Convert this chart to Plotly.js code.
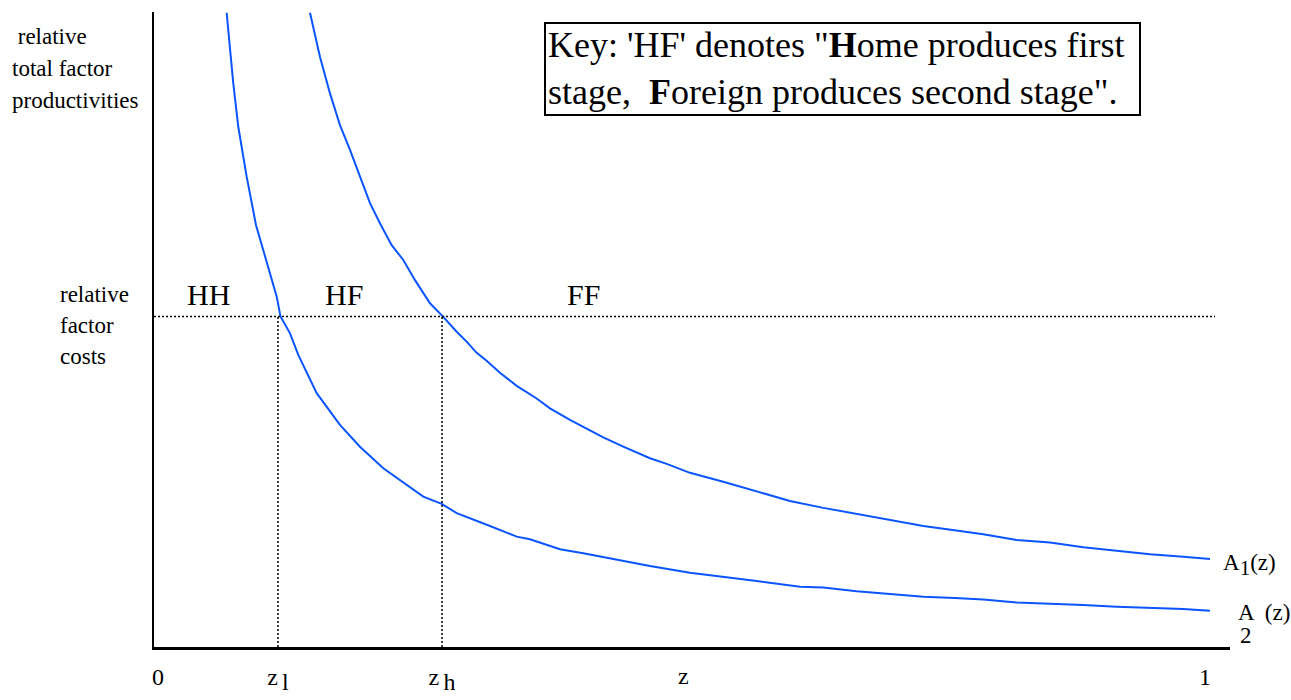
<!DOCTYPE html>
<html>
<head>
<meta charset="utf-8">
<script src="https://cdn.plot.ly/plotly-3.0.1.min.js"></script>
<style>
  html, body { margin: 0; padding: 0; background: #fff; }
  #chart { width: 1291px; height: 700px; }
</style>
</head>
<body>
<div id="chart"></div>
<script>
// z on the horizontal axis (0..1), heights scaled so relative factor costs = 1
var a1Z = [0.1452, 0.1547, 0.1643, 0.1738, 0.1834, 0.1929, 0.2025, 0.2120, 0.2232, 0.2343,
  0.2455, 0.2598, 0.2725, 0.2853, 0.2948, 0.3044, 0.3139, 0.3266, 0.3426, 0.3617,
  0.3744, 0.3935, 0.4126, 0.4253, 0.4444, 0.4699, 0.4859, 0.5081, 0.5399, 0.5718,
  0.6036, 0.6354, 0.6673, 0.6991, 0.7310, 0.7660, 0.7882, 0.8201, 0.8520, 0.8838,
  0.9157, 0.9475, 0.9793, 1.0048];
var a1Y = [1.919, 1.786, 1.675, 1.579, 1.504, 1.423, 1.343, 1.282, 1.216, 1.171,
  1.110, 1.040, 0.999, 0.954, 0.924, 0.890, 0.866, 0.830, 0.790, 0.752,
  0.722, 0.687, 0.654, 0.634, 0.606, 0.571, 0.554, 0.527, 0.500, 0.470,
  0.442, 0.421, 0.402, 0.384, 0.366, 0.351, 0.341, 0.324, 0.316, 0.302,
  0.291, 0.281, 0.273, 0.266];

var a2Z = [0.0656, 0.0719, 0.0767, 0.0847, 0.0936, 0.1038, 0.1134, 0.1170, 0.1261, 0.1340,
  0.1516, 0.1738, 0.1929, 0.2152, 0.2438, 0.2534, 0.2710, 0.2853, 0.3171, 0.3426,
  0.3553, 0.3840, 0.4062, 0.4381, 0.4699, 0.5081, 0.5399, 0.5718, 0.6132, 0.6354,
  0.6673, 0.6991, 0.7310, 0.7612, 0.7882, 0.8201, 0.8520, 0.8838, 0.9157, 0.9475,
  0.9793, 1.0048];
var a2Y = [1.919, 1.706, 1.574, 1.423, 1.277, 1.161, 1.060, 1.000, 0.949, 0.884,
  0.768, 0.672, 0.606, 0.541, 0.475, 0.455, 0.433, 0.405, 0.366, 0.334,
  0.326, 0.296, 0.284, 0.265, 0.245, 0.225, 0.213, 0.200, 0.182, 0.180,
  0.169, 0.160, 0.152, 0.148, 0.144, 0.135, 0.132, 0.127, 0.122, 0.119,
  0.115, 0.110];

var costLevel = 1;
var zl = 0.1146;
var zh = 0.2713;
var costLineX = [-0.0038, 1.0096];

var tickVals = [0, zl, zh, 1];
var tickText = ['0', 'z<sub> <span style="font-size:24px">l</span></sub>',
  'z<sub> <span style="font-size:24px">h</span></sub>', '1'];

var serif = 'Liberation Serif';  // a comma list of families is not applied here
var blue = '#0a55ff';

// pixel helpers for text placement (plot area 154..1230 x 12..647)
function pxX(p) { return (p - 154) / 1076; }
function pxY(p) { return (647 - p) / 635; }

var traces = [
  { x: a1Z, y: a1Y, type: 'scatter', mode: 'lines', line: { color: blue, width: 2 } },
  { x: a2Z, y: a2Y, type: 'scatter', mode: 'lines', line: { color: blue, width: 2 } },
  { x: costLineX, y: [costLevel, costLevel], type: 'scatter', mode: 'lines',
    line: { color: '#000', width: 1.5, dash: '2px,2px' } },
  { x: [zl, zl], y: [0, costLevel], type: 'scatter', mode: 'lines',
    line: { color: '#000', width: 1.5, dash: '2px,2px' } },
  { x: [zh, zh], y: [0, costLevel], type: 'scatter', mode: 'lines',
    line: { color: '#000', width: 1.5, dash: '2px,2px' } }
];

function note(text, x, y, size, opts) {
  var a = {
    text: text, xref: 'paper', yref: 'paper', x: pxX(x), y: pxY(y),
    showarrow: false, xanchor: 'center', yanchor: 'middle',
    font: { family: serif, size: size, color: '#000' }
  };
  for (var k in opts) a[k] = opts[k];
  return a;
}
var left = { xanchor: 'left', align: 'left' };

var layout = {
  width: 1291,
  height: 700,
  margin: { l: 154, r: 61, t: 12, b: 53 },
  paper_bgcolor: '#fff',
  plot_bgcolor: '#fff',
  showlegend: false,
  hovermode: false,
  font: { family: serif },
  xaxis: {
    range: [-0.0038, 1.0239],
    showgrid: false, zeroline: false,
    showline: true, linecolor: '#000', linewidth: 2.5,
    tickmode: 'array', tickvals: tickVals, ticktext: tickText,
    ticks: 'outside', ticklen: 7, tickcolor: 'rgba(0,0,0,0)',
    tickfont: { family: serif, size: 24, color: '#000' }
  },
  yaxis: {
    range: [0, 1.9213],
    showgrid: false, zeroline: false,
    showline: true, linecolor: '#000', linewidth: 2.5,
    showticklabels: false, ticks: ''
  },
  shapes: [
    { type: 'rect', xref: 'paper', yref: 'paper',
      x0: pxX(545), x1: pxX(1140), y0: pxY(115), y1: pxY(23),
      line: { color: '#000', width: 2 }, fillcolor: '#fff', layer: 'above' }
  ],
  annotations: [
    note('&nbsp;relative', 10, 36, 23, left),
    note('total factor', 10, 68, 23, left),
    note('productivities', 10, 100, 23, left),
    note('relative', 58, 294, 23, left),
    note('factor', 58, 325, 23, left),
    note('costs', 58, 357, 23, left),
    note('HH', 208, 294, 30),
    note('HF', 344, 294, 30),
    note('FF', 583, 294, 30),
    note('Key: \'HF\' denotes "<b>H</b>ome produces first<br>stage,  <b>F</b>oreign produces second stage".',
      546, 68, 36, left),
    note('z', 683, 676, 24),
    note('A<sub><span style="font-size:21px">1</span></sub>(z)', 1221, 565, 23, { xanchor: 'left' }),
    note('A &nbsp;(z)', 1236, 612, 23, { xanchor: 'left' }),
    note('2', 1246, 635, 23)
  ]
};

Plotly.newPlot('chart', traces, layout, { displayModeBar: false, staticPlot: true });
</script>
</body>
</html>
